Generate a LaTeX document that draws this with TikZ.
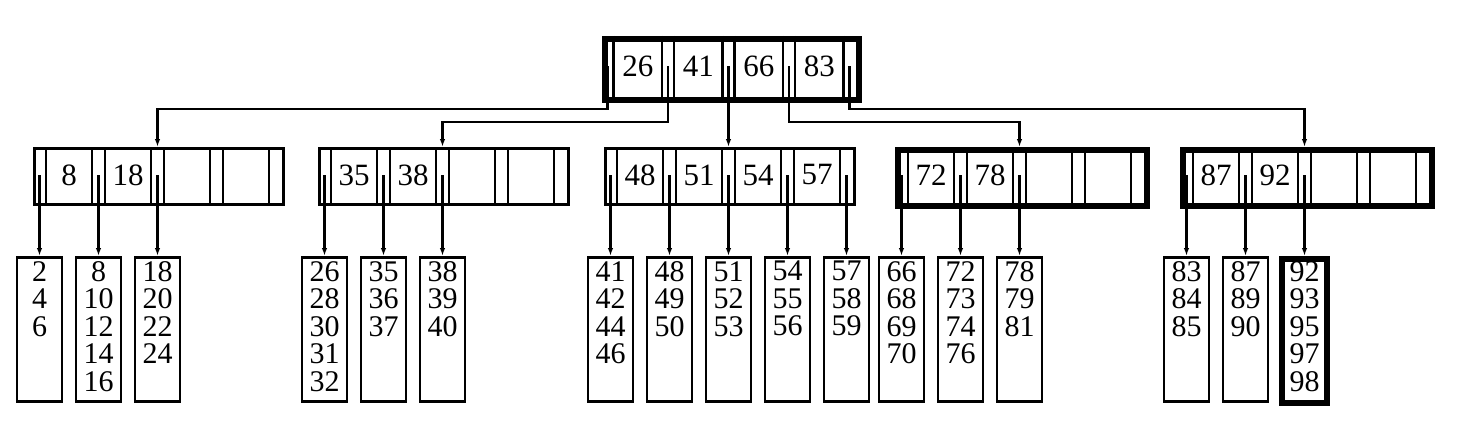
\documentclass[tikz,border=0pt]{standalone}
\usepackage{fontspec}
\setmainfont{Liberation Serif}
\usetikzlibrary{arrows.meta}

\tikzset{
  box/.style={draw, line width=#1, inner sep=0pt},
  keytext/.style={inner sep=0pt, font=\fontsize{31}{27.5}\selectfont},
  leaftext/.style={inner sep=0pt, align=center, anchor=north, font=\fontsize{30}{27.5}\selectfont},
  conn/.style={line width=2.5pt, -{Latex[length=8pt,width=5.5pt]}},
  sepline/.style={line width=2.4pt},
}

% #1 name, #2 left, #3 top, #4 height, #5 pointer width, #6 key width, #7 border width, #8 keys i/text
\newcommand\bpnode[8]{%
  \pgfmathsetmacro\bpW{5*#5+4*#6}%
  \node[box=#7, minimum width=\bpW pt, minimum height=#4 pt, anchor=north west] (#1) at (#2,#3) {};
  \foreach \i in {1,...,4}{
    \pgfmathsetmacro\xa{#2+\i*#5+(\i-1)*#6}
    \pgfmathsetmacro\xb{#2+\i*(#5+#6)}
    \draw[sepline] (\xa,#3) -- (\xa,#3+#4);
    \draw[sepline] (\xb,#3) -- (\xb,#3+#4);
  }
  \foreach \i in {1,...,5}{
    \pgfmathsetmacro\xp{#2+#5/2+(\i-1)*(#5+#6)}
    \coordinate (#1m\i) at (\xp,#3+#4/2);
    \coordinate (#1t\i) at (\xp,#3);
  }
  \foreach \i/\t in {#8}{
    \pgfmathsetmacro\xk{#2+\i*#5+(\i-0.5)*#6}
    \node[keytext] (#1k\i) at (\xk,#3+#4/2) {\t};
  }
}

% #1 name, #2 center x, #3 border width, #4 text
\newcommand\bpleaf[4]{%
  \node[box=#3, minimum width=45pt, minimum height=144pt, anchor=north] (#1) at (#2,256) {};
  \node[leaftext] (#1txt) at ([yshift=-5pt]#1.north) {#4};
}

\begin{document}
\begin{tikzpicture}[x=1pt,y=-1pt]
\useasboundingbox (0,0) rectangle (1468,436);

% root
\bpnode{r}{601.5}{36}{61}{12}{48.5}{6pt}{1/26,2/41,3/66,4/83}

% internal nodes
\bpnode{na}{33}{147}{56}{13}{46}{2.8pt}{1/8,2/18}
\bpnode{nb}{318}{147}{56}{13}{46}{2.8pt}{1/35,2/38}
\bpnode{nc}{604}{147}{56}{13}{46}{2.8pt}{1/48,2/51,3/54,4/57}
\bpnode{nd}{895}{147}{56}{13}{46}{5.5pt}{1/72,2/78}
\bpnode{ne}{1180}{147}{56}{13}{46}{5.5pt}{1/87,2/92}

% leaves
\bpleaf{la1}{39.5}{2.8pt}{2\\4\\6}
\bpleaf{la2}{98.5}{2.8pt}{8\\10\\12\\14\\16}
\bpleaf{la3}{157.5}{2.8pt}{18\\20\\22\\24}
\bpleaf{lb1}{324.5}{2.8pt}{26\\28\\30\\31\\32}
\bpleaf{lb2}{383.5}{2.8pt}{35\\36\\37}
\bpleaf{lb3}{442.5}{2.8pt}{38\\39\\40}
\bpleaf{lc1}{610.5}{2.8pt}{41\\42\\44\\46}
\bpleaf{lc2}{669.5}{2.8pt}{48\\49\\50}
\bpleaf{lc3}{728.5}{2.8pt}{51\\52\\53}
\bpleaf{lc4}{787.5}{2.8pt}{54\\55\\56}
\bpleaf{lc5}{846.5}{2.8pt}{57\\58\\59}
\bpleaf{ld1}{901.5}{2.8pt}{66\\68\\69\\70}
\bpleaf{ld2}{960.5}{2.8pt}{72\\73\\74\\76}
\bpleaf{ld3}{1019.5}{2.8pt}{78\\79\\81}
\bpleaf{le1}{1186.5}{2.8pt}{83\\84\\85}
\bpleaf{le2}{1245.5}{2.8pt}{87\\89\\90}
\bpleaf{le3}{1304.5}{6pt}{92\\93\\95\\97\\98}

% root connectors
\coordinate (h1) at (0,109);
\coordinate (h2) at (0,122);
\draw[conn] (rm1) -- (rm1 |- h1) -| (nat3);
\draw[conn] (rm2) -- (rm2 |- h2) -| (nbt3);
\draw[conn] (rm3) -- (nct3);
\draw[conn] (rm4) -- (rm4 |- h2) -| (ndt3);
\draw[conn] (rm5) -- (rm5 |- h1) -| (net3);

% leaf connectors
\draw[conn] (nam1) -- (la1.north);
\draw[conn] (nam2) -- (la2.north);
\draw[conn] (nam3) -- (la3.north);
\draw[conn] (nbm1) -- (lb1.north);
\draw[conn] (nbm2) -- (lb2.north);
\draw[conn] (nbm3) -- (lb3.north);
\draw[conn] (ncm1) -- (lc1.north);
\draw[conn] (ncm2) -- (lc2.north);
\draw[conn] (ncm3) -- (lc3.north);
\draw[conn] (ncm4) -- (lc4.north);
\draw[conn] (ncm5) -- (lc5.north);
\draw[conn] (ndm1) -- (ld1.north);
\draw[conn] (ndm2) -- (ld2.north);
\draw[conn] (ndm3) -- (ld3.north);
\draw[conn] (nem1) -- (le1.north);
\draw[conn] (nem2) -- (le2.north);
\draw[conn] (nem3) -- (le3.north);
\end{tikzpicture}
\end{document}
